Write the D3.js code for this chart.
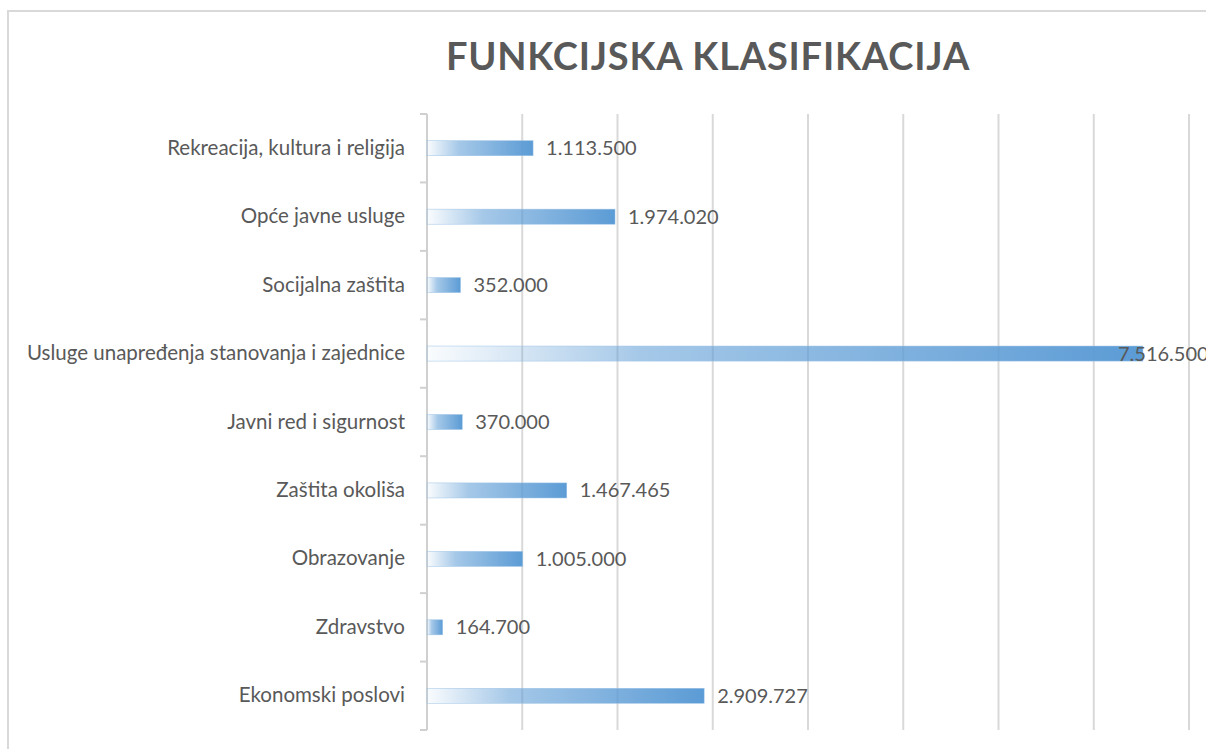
<!DOCTYPE html>
<html>
<head>
<meta charset="utf-8">
<script src="https://cdn.jsdelivr.net/npm/d3@7"></script>
<style>
  body { margin: 0; background: #fff; }
  text { font-family: Lato, "Open Sans", sans-serif; }
</style>
</head>
<body>
<div id="chart"></div>
<script>
// data, top to bottom as in the picture
const categories = [
  'Rekreacija, kultura i religija',
  'Opće javne usluge',
  'Socijalna zaštita',
  'Usluge unapređenja stanovanja i zajednice',
  'Javni red i sigurnost',
  'Zaštita okoliša',
  'Obrazovanje',
  'Zdravstvo',
  'Ekonomski poslovi'
];
const values = [1113500, 1974020, 352000, 7516500, 370000, 1467465, 1005000, 164700, 2909727];
const xTicks = [0, 1000000, 2000000, 3000000, 4000000, 5000000, 6000000, 7000000, 8000000];
const title = 'FUNKCIJSKA KLASIFIKACIJA';

const width = 1206, height = 749;
const plotL = 427, plotR = 1189, plotT = 114, plotB = 730;
const grey = '#595959';

const data = categories.map((c, i) => ({cat: c, val: values[i]}));

const svg = d3.select('#chart')
    .append('svg')
    .attr('width', width)
    .attr('height', height);

// chart frame
svg.append('rect')
    .attr('x', 8).attr('y', 11)
    .attr('width', width + 20).attr('height', height + 20)
    .style('fill', '#fff')
    .style('stroke', '#d9d9d9')
    .style('stroke-width', 2);

const defs = svg.append('defs');
const grad = defs.append('linearGradient')
    .attr('id', 'barGrad')
    .attr('x1', '0%').attr('x2', '100%')
    .attr('y1', '0%').attr('y2', '0%');
grad.append('stop').attr('offset', '0%').attr('stop-color', '#5B9BD5').attr('stop-opacity', 0.03);
grad.append('stop').attr('offset', '30%').attr('stop-color', '#5B9BD5').attr('stop-opacity', 0.55);
grad.append('stop').attr('offset', '100%').attr('stop-color', '#5B9BD5').attr('stop-opacity', 1);

let scaleX = d3.scaleLinear().domain([0, 8000000]).range([plotL, plotR]);
let scaleY = d3.scaleBand().domain(categories).range([plotT, plotB]).paddingInner(0.78).paddingOuter(0.39);

// vertical gridlines
svg.append('g')
    .attr('class', 'grid')
    .selectAll('line')
    .data(xTicks.slice(1))
    .enter()
    .append('line')
    .attr('x1', d => scaleX(d)).attr('x2', d => scaleX(d))
    .attr('y1', plotT).attr('y2', plotB)
    .style('stroke', '#d9d9d9')
    .style('stroke-width', 2);

// category axis
let yAxis = d3.axisLeft(scaleY).tickSize(0).tickPadding(22);
let yAxisGroup = svg.append('g')
    .attr('class', 'y axis')
    .attr('transform', 'translate(' + plotL + ',0)')
    .call(yAxis);
yAxisGroup.select('.domain').remove();
yAxisGroup.selectAll('text')
    .style('font-size', '20.5px')
    .style('fill', grey)
    .style('font-family', 'Lato, "Open Sans", sans-serif');

// axis line with ticks between categories
const bounds = d3.range(categories.length + 1).map(i => plotT + i * (plotB - plotT) / categories.length);
svg.append('line')
    .attr('x1', plotL).attr('x2', plotL)
    .attr('y1', plotT).attr('y2', plotB)
    .style('stroke', '#d0d0d0')
    .style('stroke-width', 2);
svg.selectAll('.btick')
    .data(bounds)
    .enter()
    .append('line')
    .attr('class', 'btick')
    .attr('x1', plotL - 7).attr('x2', plotL)
    .attr('y1', d => d).attr('y2', d => d)
    .style('stroke', '#d0d0d0')
    .style('stroke-width', 2);

// bars
svg.selectAll('.bar')
    .data(data)
    .enter()
    .append('rect')
    .attr('class', 'bar')
    .attr('x', scaleX(0))
    .attr('y', d => scaleY(d.cat))
    .attr('width', d => scaleX(d.val) - scaleX(0))
    .attr('height', scaleY.bandwidth())
    .style('fill', 'url(#barGrad)')
    .style('stroke', '#9dc3e6')
    .style('stroke-width', 0.5);

const fmt = d3.formatLocale({decimal: ',', thousands: '.', grouping: [3], currency: ['', '']}).format(',d');

svg.selectAll('.lbl')
    .data(data)
    .enter()
    .append('text')
    .attr('class', 'lbl')
    .attr('x', d => Math.min(scaleX(d.val) + 13, plotR - 71))
    .attr('y', d => scaleY(d.cat) + scaleY.bandwidth() / 2)
    .attr('dy', '0.35em')
    .style('font-size', '20px')
    .style('fill', grey)
    .text(d => fmt(d.val));

svg.append('text')
    .attr('x', 708)
    .attr('y', 70)
    .style('text-anchor', 'middle')
    .style('font-size', '38px')
    .style('font-weight', 'bold')
    .style('fill', grey)
    .style('letter-spacing', '0.8px')
    .text(title);
</script>
</body>
</html>
